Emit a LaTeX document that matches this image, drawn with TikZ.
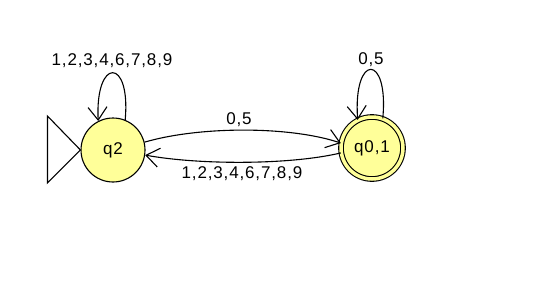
\documentclass[tikz,border=0pt]{standalone}
\usepackage{fontspec}
\setmainfont{Liberation Sans}[LetterSpace=5]
\usetikzlibrary{arrows.meta}
\definecolor{statefill}{RGB}{255,255,153}
\tikzset{
  state/.style={circle, draw, line width=1.1pt, fill=statefill, inner sep=0pt,
    font=\fontsize{17}{19}\selectfont},
  final/.style={double=statefill, double distance=3.5pt},
  trans/.style={line width=1.1pt, -{Straight Barb[length=13pt,width=19pt,line width=1.1pt]}},
  lbl/.style={font=\fontsize{17}{19}\selectfont, inner sep=0pt}
}
\begin{document}
\begin{tikzpicture}[x=1pt,y=-1pt]
  \useasboundingbox (0,0) rectangle (557,290);
  \fill[white] (0,0) rectangle (557,290);
  % states
  \node[state, minimum size=64pt] (q2) at (113,150) {q2};
  \node[state, final, minimum size=62pt] (q01) at (372,148) {q0,1};
  % initial marker
  \draw[line width=1.1pt] (q2.west) -- ++(-33,-34) -- ++(0,67) -- cycle;
  % self loops
  \draw[trans] (q2.68) .. controls (131,57) and (95,57) .. (q2.117);
  \draw[trans] (q01.70) .. controls (389,53) and (353,53) .. (q01.117);
  % transitions between the states
  \draw[trans] (q2.14) .. controls (200,126) and (290,126) .. (q01.171);
  \draw[trans] (q01.-171) .. controls (290,165) and (200,165) .. (q2.-9);
  % labels
  \node[lbl] (l1) at (112,61) {1,2,3,4,6,7,8,9};
  \node[lbl] (l2) at (371,60) {0,5};
  \node[lbl] (l3) at (239,120) {0,5};
  \node[lbl] (l4) at (242,174) {1,2,3,4,6,7,8,9};
\end{tikzpicture}
\end{document}
